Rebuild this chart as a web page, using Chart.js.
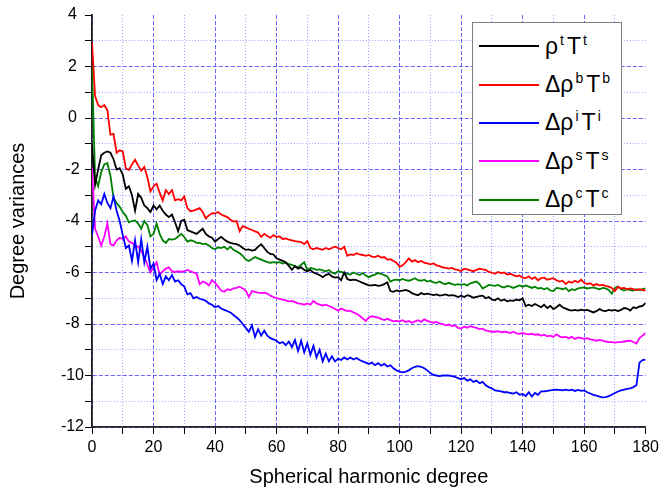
<!DOCTYPE html>
<html lang="en">
<head>
<meta charset="UTF-8">
<title>Degree variances</title>
<script src="https://cdn.jsdelivr.net/npm/chart.js"></script>
<style>
  body { margin: 0; background: #fff; font-family: 'Liberation Sans', Arial, sans-serif; }
  #wrap { position: relative; width: 663px; height: 489px; }
  #legend {
    position: absolute; left: 472px; top: 22px;
    width: 150px; height: 193px; box-sizing: border-box;
    border: 1px solid #808080; background: #fff; padding-top: 4px;
  }
  .row { height: 38.4px; display: flex; align-items: center; }
  .swatch { width: 60px; height: 2px; margin: 0 6px 0 6px; }
  .txt { font-size: 23px; line-height: 1; color: #000; white-space: nowrap; }
  .txt sup { font-size: 14px; vertical-align: 9px; line-height: 0; margin: 0 3px 0 2px; }
</style>
</head>
<body>
<div id="wrap">
  <canvas id="chart" width="663" height="489"></canvas>
  <div id="legend"></div>
</div>
<script>
const degrees = [...Array(181).keys()];

const seriesNames = ['ρtTt', 'ΔρbTb', 'ΔρiTi', 'ΔρsTs', 'ΔρcTc'];
const legendBase = ['ρ', 'Δρ', 'Δρ', 'Δρ', 'Δρ'];
const legendSup = ['t', 'b', 'i', 's', 'c'];
const seriesColors = ['#000000', '#ff0000', '#0000ff', '#ff00ff', '#008000'];

const totalT = [
  -1.05,-2.6,-2.0,-1.45,-1.35,-1.3,-1.35,-1.6,-2.0,-1.95,
  -2.2,-2.75,-2.65,-3.0,-3.6,-2.95,-3.1,-3.4,-3.5,-3.65,
  -3.4,-3.55,-3.4,-3.6,-3.75,-3.85,-3.75,-4.05,-4.4,-4.0,
  -3.95,-4.35,-4.4,-4.45,-4.5,-4.4,-4.3,-4.5,-4.6,-4.65,
  -4.8,-4.7,-4.62,-4.72,-4.8,-4.85,-4.88,-4.9,-4.95,-5.05,
  -5.12,-5.1,-5.15,-5.12,-5.0,-4.9,-5.05,-5.2,-5.28,-5.3,
  -5.45,-5.5,-5.55,-5.6,-5.75,-5.9,-5.75,-5.85,-5.8,-5.9,
  -5.95,-5.9,-6.0,-6.05,-6.1,-6.18,-6.1,-6.05,-6.15,-6.2,
  -6.18,-6.3,-6.0,-6.25,-6.3,-6.28,-6.3,-6.35,-6.4,-6.45,
  -6.5,-6.5,-6.48,-6.52,-6.5,-6.45,-6.38,-6.72,-6.75,-6.7,
  -6.72,-6.7,-6.68,-6.72,-6.8,-6.85,-6.88,-6.8,-6.85,-6.82,
  -6.85,-6.88,-6.85,-6.9,-6.88,-6.85,-6.9,-6.88,-6.9,-6.95,
  -6.9,-6.95,-6.88,-6.92,-6.98,-6.95,-6.92,-6.9,-7.0,-6.95,
  -7.05,-7.08,-7.0,-7.1,-7.05,-7.12,-7.08,-7.1,-7.05,-7.08,
  -7.0,-7.3,-7.25,-7.3,-7.22,-7.28,-7.35,-7.25,-7.38,-7.3,
  -7.42,-7.35,-7.25,-7.35,-7.4,-7.45,-7.48,-7.45,-7.48,-7.44,
  -7.47,-7.45,-7.5,-7.55,-7.5,-7.42,-7.48,-7.5,-7.45,-7.48,
  -7.45,-7.5,-7.45,-7.38,-7.4,-7.48,-7.35,-7.38,-7.32,-7.3,-7.18
];

const bouguerT = [
  2.95,0.85,0.5,0.42,0.5,0.3,-0.65,-0.62,-1.35,-1.25,
  -1.3,-1.95,-2.02,-1.8,-1.62,-1.85,-2.05,-1.9,-2.3,-2.85,
  -2.65,-2.55,-2.9,-3.2,-2.8,-2.95,-2.8,-3.2,-3.15,-3.2,
  -3.05,-3.5,-3.62,-3.6,-3.55,-3.5,-3.65,-3.9,-3.78,-3.7,
  -3.7,-3.65,-3.75,-3.8,-3.85,-3.95,-4.02,-4.0,-4.4,-4.2,
  -4.25,-4.3,-4.35,-4.4,-4.45,-4.62,-4.5,-4.58,-4.65,-4.55,
  -4.62,-4.6,-4.7,-4.68,-4.72,-4.75,-4.78,-4.8,-4.82,-4.9,
  -4.78,-5.05,-5.1,-5.05,-5.08,-5.12,-5.05,-5.1,-5.05,-5.0,
  -5.05,-5.1,-5.0,-5.35,-5.3,-5.32,-5.25,-5.3,-5.32,-5.35,
  -5.32,-5.38,-5.4,-5.35,-5.42,-5.4,-5.5,-5.48,-5.55,-5.62,
  -5.78,-5.72,-5.6,-5.45,-5.58,-5.52,-5.6,-5.55,-5.62,-5.65,
  -5.68,-5.65,-5.72,-5.75,-5.8,-5.82,-5.85,-5.82,-5.88,-5.9,
  -5.95,-5.85,-5.88,-5.92,-5.95,-5.9,-5.85,-5.88,-5.9,-5.98,
  -6.0,-6.05,-5.98,-6.02,-6.0,-6.08,-6.05,-6.1,-6.15,-6.12,
  -6.2,-6.22,-6.15,-6.25,-6.18,-6.3,-6.22,-6.2,-6.28,-6.25,
  -6.22,-6.3,-6.35,-6.32,-6.45,-6.35,-6.4,-6.32,-6.38,-6.28,
  -6.4,-6.45,-6.42,-6.5,-6.45,-6.5,-6.48,-6.52,-6.55,-6.6,
  -6.72,-6.55,-6.62,-6.6,-6.65,-6.62,-6.65,-6.68,-6.65,-6.68,-6.7
];

const iceT = [
  -4.55,-3.6,-3.2,-3.35,-2.95,-3.3,-3.5,-3.05,-3.6,-4.0,
  -4.55,-5.05,-4.95,-5.55,-4.75,-5.6,-4.7,-5.6,-5.0,-5.85,
  -5.65,-6.3,-6.05,-6.45,-6.15,-6.3,-6.1,-6.35,-6.3,-6.45,
  -6.55,-6.85,-6.8,-7.0,-6.95,-7.02,-7.05,-7.1,-7.2,-7.25,
  -7.35,-7.3,-7.4,-7.45,-7.5,-7.55,-7.65,-7.75,-7.85,-8.0,
  -8.15,-8.3,-8.05,-8.5,-8.2,-8.45,-8.25,-8.45,-8.55,-8.6,
  -8.65,-8.75,-8.7,-8.82,-8.68,-8.9,-8.62,-9.05,-8.65,-9.1,
  -8.75,-9.2,-8.85,-9.3,-9.0,-9.45,-9.15,-9.45,-9.25,-9.45,
  -9.35,-9.4,-9.3,-9.38,-9.3,-9.38,-9.32,-9.4,-9.45,-9.5,
  -9.55,-9.5,-9.6,-9.52,-9.62,-9.55,-9.65,-9.6,-9.72,-9.8,
  -9.85,-9.88,-9.85,-9.8,-9.72,-9.66,-9.64,-9.66,-9.72,-9.8,
  -9.9,-9.98,-10.0,-10.02,-10.0,-10.0,-10.0,-10.02,-10.05,-10.1,
  -10.15,-10.1,-10.2,-10.15,-10.25,-10.2,-10.3,-10.25,-10.38,-10.45,
  -10.5,-10.58,-10.6,-10.62,-10.65,-10.65,-10.68,-10.7,-10.65,-10.75,
  -10.72,-10.8,-10.65,-10.82,-10.68,-10.75,-10.62,-10.62,-10.6,-10.58,
  -10.56,-10.55,-10.56,-10.58,-10.55,-10.58,-10.55,-10.6,-10.56,-10.6,
  -10.58,-10.65,-10.7,-10.75,-10.78,-10.82,-10.85,-10.84,-10.8,-10.75,
  -10.68,-10.62,-10.58,-10.55,-10.52,-10.5,-10.45,-10.38,-9.5,-9.4,-9.38
];

const sedimentT = [
  -1.9,-4.3,-4.6,-4.95,-4.6,-4.1,-4.9,-4.95,-4.75,-4.65,
  -4.7,-4.6,-4.8,-4.85,-4.95,-5.0,-5.15,-5.4,-5.7,-6.0,
  -5.8,-5.6,-6.1,-5.95,-5.85,-5.8,-5.95,-5.98,-5.95,-5.98,
  -5.95,-5.9,-5.95,-6.0,-6.05,-6.45,-6.35,-6.4,-6.5,-6.3,
  -6.4,-6.55,-6.7,-6.75,-6.65,-6.68,-6.62,-6.6,-6.55,-6.62,
  -6.7,-6.95,-6.72,-6.75,-6.78,-6.8,-6.78,-6.82,-6.9,-6.95,
  -7.0,-7.02,-7.05,-7.08,-7.12,-7.1,-7.15,-7.2,-7.22,-7.25,
  -7.2,-7.25,-7.1,-7.2,-7.25,-7.28,-7.25,-7.3,-7.35,-7.42,
  -7.48,-7.4,-7.45,-7.5,-7.48,-7.55,-7.6,-7.68,-7.78,-7.88,
  -7.75,-7.7,-7.72,-7.75,-7.8,-7.85,-7.8,-7.85,-7.9,-7.88,
  -7.9,-7.85,-7.92,-7.88,-7.95,-7.9,-7.85,-7.92,-7.82,-7.88,
  -7.92,-7.95,-7.92,-7.98,-8.0,-8.05,-8.02,-8.08,-8.05,-8.15,
  -8.18,-8.1,-8.15,-8.08,-8.12,-8.15,-8.2,-8.18,-8.25,-8.28,
  -8.3,-8.3,-8.28,-8.32,-8.3,-8.32,-8.35,-8.3,-8.36,-8.38,
  -8.35,-8.38,-8.4,-8.38,-8.42,-8.4,-8.45,-8.42,-8.48,-8.45,
  -8.5,-8.4,-8.48,-8.52,-8.5,-8.55,-8.5,-8.58,-8.52,-8.55,
  -8.58,-8.55,-8.6,-8.62,-8.65,-8.62,-8.65,-8.68,-8.7,-8.7,
  -8.72,-8.7,-8.7,-8.68,-8.66,-8.65,-8.7,-8.76,-8.55,-8.45,-8.35
];

const crustT = [
  2.0,-2.3,-2.65,-2.1,-1.8,-1.75,-2.25,-3.1,-3.3,-3.45,
  -3.65,-3.8,-4.05,-4.0,-3.98,-4.1,-4.3,-4.0,-4.15,-4.6,
  -4.5,-4.1,-4.5,-4.75,-4.85,-4.7,-4.72,-4.7,-4.6,-4.5,
  -4.62,-4.8,-4.75,-4.78,-4.85,-4.85,-4.9,-4.88,-4.95,-5.05,
  -5.1,-5.02,-5.05,-5.0,-5.1,-5.0,-5.12,-5.18,-5.25,-5.35,
  -5.5,-5.55,-5.48,-5.4,-5.45,-5.5,-5.55,-5.6,-5.62,-5.6,
  -5.62,-5.6,-5.65,-5.62,-5.68,-5.7,-5.75,-5.8,-5.7,-5.6,
  -5.9,-5.82,-5.85,-5.9,-5.88,-5.92,-5.95,-5.9,-6.0,-6.05,
  -5.95,-5.98,-6.02,-6.05,-6.08,-6.0,-6.05,-6.1,-6.02,-6.12,
  -6.18,-6.12,-6.08,-6.02,-6.05,-6.1,-6.15,-6.35,-6.3,-6.28,
  -6.3,-6.25,-6.3,-6.32,-6.28,-6.22,-6.3,-6.32,-6.28,-6.35,
  -6.32,-6.38,-6.4,-6.35,-6.42,-6.45,-6.4,-6.45,-6.48,-6.45,
  -6.48,-6.45,-6.5,-6.42,-6.38,-6.35,-6.45,-6.62,-6.55,-6.48,
  -6.5,-6.52,-6.48,-6.55,-6.58,-6.52,-6.55,-6.6,-6.55,-6.5,
  -6.55,-6.5,-6.55,-6.6,-6.55,-6.62,-6.6,-6.65,-6.6,-6.7,
  -6.72,-6.6,-6.62,-6.65,-6.6,-6.72,-6.65,-6.68,-6.62,-6.6,
  -6.58,-6.62,-6.6,-6.58,-6.62,-6.65,-6.6,-6.62,-6.68,-6.82,
  -6.6,-6.55,-6.65,-6.7,-6.65,-6.68,-6.7,-6.65,-6.68,-6.65,-6.62
];

const seriesValues = [totalT, bouguerT, iceT, sedimentT, crustT];

const majorGrid = 'rgba(85, 85, 255, 0.9)';
const minorGrid = 'rgba(120, 120, 255, 0.7)';

const datasets = seriesValues.map((vals, k) => ({
  label: seriesNames[k],
  data: vals.map((v, i) => ({ x: degrees[i], y: v })),
  borderColor: seriesColors[k],
  backgroundColor: seriesColors[k],
  borderWidth: 1.8,
  pointRadius: 0,
  tension: 0,
  fill: false
}));

const tickFont = { family: "'Liberation Sans', Arial, sans-serif", size: 16 };
const titleFont = { family: "'Liberation Sans', Arial, sans-serif", size: 20 };

new Chart(document.getElementById('chart'), {
  type: 'line',
  data: { datasets },
  options: {
    responsive: false,
    animation: false,
    layout: { padding: { top: 15, right: 15, left: 0, bottom: 0 } },
    plugins: { legend: { display: false }, tooltip: { enabled: false } },
    scales: {
      x: {
        type: 'linear',
        min: 0, max: 180,
        afterFit: s => { s.height = 62; },
        ticks: {
          stepSize: 10, color: '#000', font: tickFont, padding: 4, maxRotation: 0,
          callback: v => (v % 20 === 0 ? v : '')
        },
        grid: {
          lineWidth: 1,
          tickLength: 7,
          tickColor: '#000',
          color: c => (c.tick && c.tick.value === 180 ? 'rgba(0,0,0,0)' : (c.tick && c.tick.value % 20 === 0 ? majorGrid : minorGrid))
        },
        border: {
          color: '#222', width: 1.8,
          dash: c => (c.tick && c.tick.value % 20 === 0 ? [4, 2] : [1, 2])
        },
        title: { display: true, text: 'Spherical harmonic degree', color: '#000', font: titleFont, padding: { top: 0, bottom: 0 } }
      },
      y: {
        min: -12, max: 4,
        afterFit: s => { s.width = 92; },
        ticks: {
          stepSize: 1, color: '#000', font: tickFont, padding: 1, crossAlign: 'center',
          callback: v => (v % 2 === 0 ? v : '')
        },
        grid: {
          lineWidth: 1,
          tickLength: 7,
          tickColor: '#000',
          color: c => (c.tick && c.tick.value === 4 ? 'rgba(0,0,0,0)' : (c.tick && c.tick.value % 2 === 0 ? majorGrid : minorGrid))
        },
        border: {
          color: '#222', width: 1.8,
          dash: c => (c.tick && c.tick.value % 2 === 0 ? [4, 2] : [1, 2])
        },
        title: { display: true, text: 'Degree variances', color: '#000', font: titleFont, padding: { top: 6, bottom: 0 } }
      }
    }
  }
});

// legend with superscripts, built from the series lists
const legend = document.getElementById('legend');
seriesNames.forEach((name, k) => {
  const row = document.createElement('div');
  row.className = 'row';
  const sw = document.createElement('div');
  sw.className = 'swatch';
  sw.style.background = seriesColors[k];
  const txt = document.createElement('div');
  txt.className = 'txt';
  txt.innerHTML = legendBase[k] + '<sup>' + legendSup[k] + '</sup>T<sup>' + legendSup[k] + '</sup>';
  row.appendChild(sw);
  row.appendChild(txt);
  legend.appendChild(row);
});
</script>
</body>
</html>
